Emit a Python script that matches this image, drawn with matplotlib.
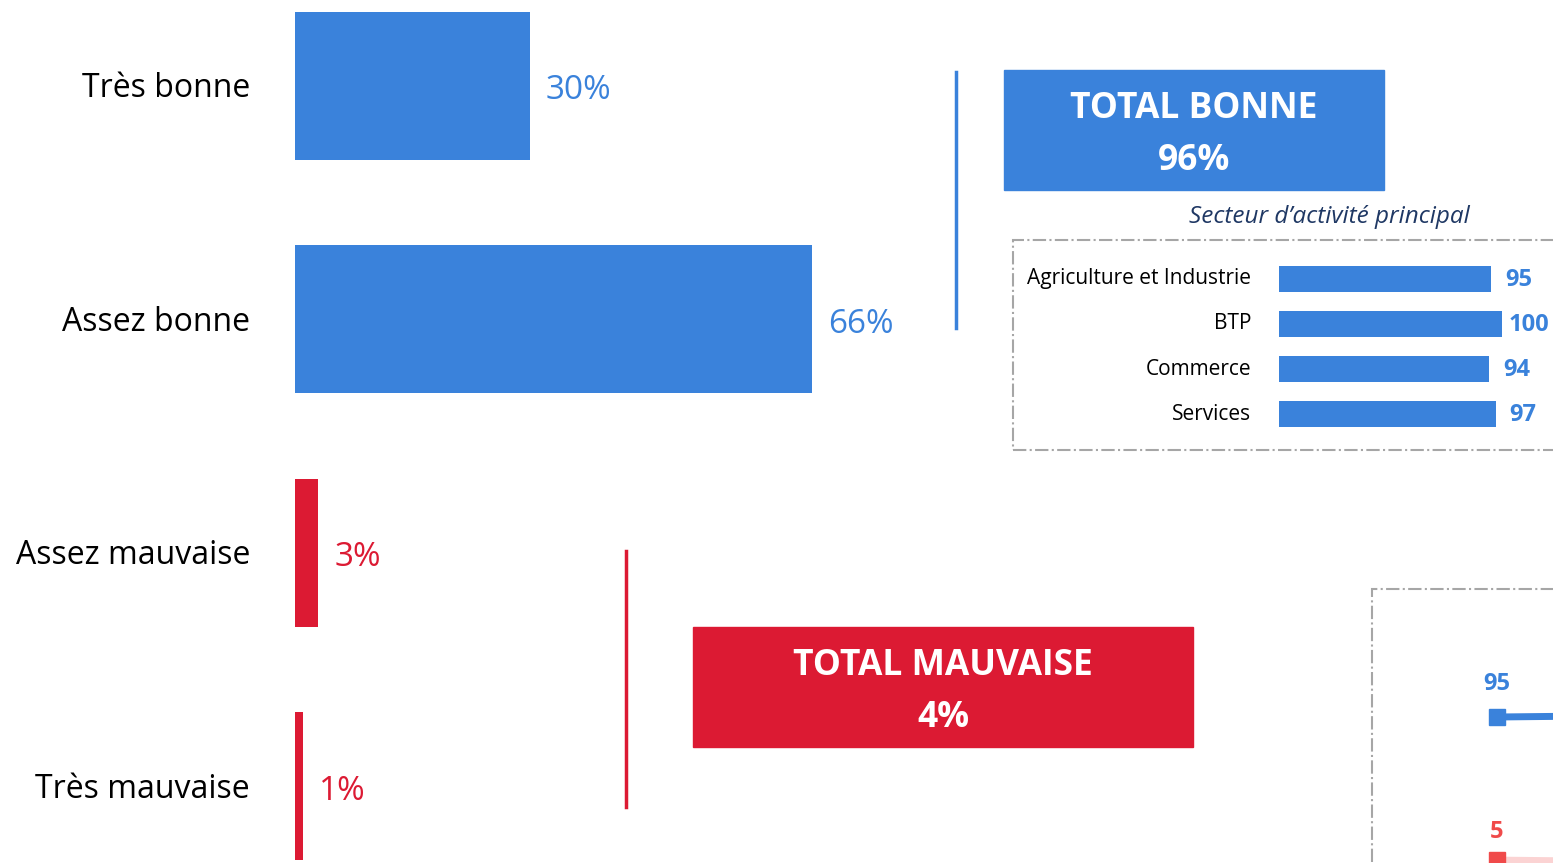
import matplotlib.pyplot as plt
from matplotlib.patches import Rectangle

plt.rcParams['font.family'] = ['Open Sans', 'DejaVu Sans']

# main chart data
categories = ['Très bonne', 'Assez bonne', 'Assez mauvaise', 'Très mauvaise']
values = [30, 66, 3, 1]
total_bonne = 96
total_mauvaise = 4

# sector inset data
sectors = ['Agriculture et Industrie', 'BTP', 'Commerce', 'Services']
sector_values = [95, 100, 94, 97]

# evolution inset (only first points are visible)
evol_bonne = [95, 96]
evol_mauvaise = [5, 4]

BLUE = '#3A82DB'
RED = '#DC1A33'
RED2 = '#F04A4A'
W, H = 1553, 863


def fig_rect(x0, y0, x1, y1):
    # pixel box (top-left origin) -> figure fraction [l, b, w, h]
    return [x0 / W, 1 - y1 / H, (x1 - x0) / W, (y1 - y0) / H]


fig = plt.figure(figsize=(W / 100, H / 100), dpi=100)

# ---- main horizontal bars
ax = fig.add_axes(fig_rect(295, 0, W, H))
colors = [BLUE, BLUE, RED, RED]
ypos = list(range(len(categories)))
ax.barh(ypos, values, height=0.634, color=colors)
ax.set_xlim(0, (W - 295) / 7.83)
ax.set_ylim(3.328, -0.368)
ax.axis('off')
for i, (cat, v) in enumerate(zip(categories, values)):
    ax.annotate(cat, xy=(0, i), xytext=(-45, -3), textcoords='offset pixels',
                ha='right', va='center', fontsize=23, color='black')
    ax.annotate(f"{v}%", xy=(v, i), xytext=(16, -5), textcoords='offset pixels',
                ha='left', va='center', fontsize=24, color=colors[i])

# vertical separator lines
fig.add_artist(plt.Line2D([956 / W, 956 / W], [1 - 72 / H, 1 - 328 / H],
                          color=BLUE, lw=2.5))
fig.add_artist(plt.Line2D([626 / W, 626 / W], [1 - 551 / H, 1 - 807 / H],
                          color=RED, lw=2.5))

# total boxes
r = fig_rect(1004, 70, 1384, 190)
fig.add_artist(Rectangle((r[0], r[1]), r[2], r[3], color=BLUE,
                         transform=fig.transFigure))
fig.text(r[0] + r[2] / 2, r[1] + r[3] / 2 - 5 / H, f"TOTAL BONNE\n{total_bonne}%",
         ha='center', va='center', color='white', fontsize=25.5,
         fontweight='bold', linespacing=1.6)

r = fig_rect(693, 627, 1193, 747)
fig.add_artist(Rectangle((r[0], r[1]), r[2], r[3], color=RED,
                         transform=fig.transFigure))
fig.text(r[0] + r[2] / 2, r[1] + r[3] / 2 - 5 / H, f"TOTAL MAUVAISE\n{total_mauvaise}%",
         ha='center', va='center', color='white', fontsize=25.5,
         fontweight='bold', linespacing=1.6)

# ---- sector inset
fig.text(1329 / W, 1 - 217 / H, "Secteur d\u2019activité principal",
         ha='center', va='center', fontsize=17.5, style='italic', color='#1F3864')
r = fig_rect(1013, 240, 1600, 450)
fig.add_artist(Rectangle((r[0], r[1]), r[2], r[3], fill=False,
                         edgecolor='#A6A6A6', lw=1.5, ls='-.',
                         transform=fig.transFigure))

ax2 = fig.add_axes(fig_rect(1279, 256, W, 437))
spos = list(range(len(sectors)))
ax2.barh(spos, sector_values, height=0.58, color=BLUE)
ax2.set_xlim(0, (W - 1279) / 2.232)
ax2.set_ylim(3.5, -0.5)
ax2.axis('off')
renderer = fig.canvas.get_renderer()
for i, (s, v) in enumerate(zip(sectors, sector_values)):
    ax2.annotate(s, xy=(0, i), xytext=(-28, 0), textcoords='offset pixels',
                 ha='right', va='center', fontsize=15, color='black')
    lab = ax2.annotate(str(v), xy=(v, i), xytext=(14, -1), textcoords='offset pixels',
                       ha='left', va='center', fontsize=17, fontweight='bold',
                       color=BLUE, annotation_clip=False)
    # keep labels inside the picture, like the office chart does
    over = lab.get_window_extent(renderer).x1 - (W - 4)
    if over > 0:
        lab.set_position((14 - over, -1))

# ---- evolution inset (cut by the right edge)
r = fig_rect(1372, 589, 1700, 1000)
fig.add_artist(Rectangle((r[0], r[1]), r[2], r[3], fill=False,
                         edgecolor='#A6A6A6', lw=1.5, ls='-.',
                         transform=fig.transFigure))
ax3 = fig.add_axes(fig_rect(1380, 600, W, H))
xs = [0, 1]
ax3.plot(xs, evol_bonne, color=BLUE, lw=5, marker='s', markersize=11,
         clip_on=False)
ax3.plot(xs, evol_mauvaise, color='#FBD3D3', lw=5, marker='s', markersize=11,
         markerfacecolor=RED2, markeredgecolor=RED2, clip_on=False)
ax3.set_xlim(-117 / 150, 56 / 150)
ax3.set_ylim(95 - (H - 717) / 1.59, 95 + (717 - 600) / 1.59)
ax3.axis('off')
ax3.annotate(str(evol_bonne[0]), xy=(0, evol_bonne[0]), xytext=(0, 33),
             textcoords='offset pixels', ha='center', va='center',
             fontsize=17, fontweight='bold', color=BLUE)
ax3.annotate(str(evol_mauvaise[0]), xy=(0, evol_mauvaise[0]), xytext=(0, 28),
             textcoords='offset pixels', ha='center', va='center',
             fontsize=17, fontweight='bold', color=RED2)

fig.savefig('out.png', dpi=100)
